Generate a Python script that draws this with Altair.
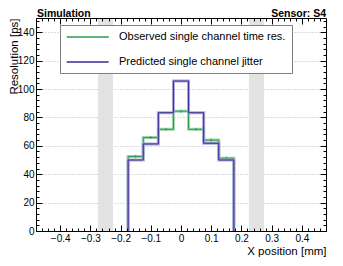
import altair as alt
import pandas as pd

# ---------------- data ----------------
bin_edges = [-0.175, -0.125, -0.075, -0.025, 0.025, 0.075, 0.125, 0.175]
observed = [52.5, 65.8, 71.6, 84.4, 71.6, 64.0, 51.3]
observed_err = [1.0, 1.0, 1.0, 1.0, 1.0, 1.0, 1.0]
predicted = [50.0, 61.3, 83.3, 105.6, 83.3, 61.8, 50.0]
series_names = ["Observed single channel time res.", "Predicted single channel jitter"]
band_lo = [-0.275, 0.225]
band_hi = [-0.225, 0.275]

x_major = [-0.4, -0.3, -0.2, -0.1, 0.0, 0.1, 0.2, 0.3, 0.4]
x_minor = [round(-0.46 + 0.02 * i, 2) for i in range(47)]
y_major = [0, 20, 40, 60, 80, 100, 120, 140]
y_minor = list(range(0, 151, 4))

GREEN = "#2a9a48"
GREEN_HALO = "#97d4a6"
BLUE = "#352c92"
BLUE_HALO = "#a19bd8"
FONT = "Liberation Sans"
W, H = 290, 213
PAD_TOP = 10
PAD_BOTTOM = 250 - PAD_TOP - H


def step_table(values, name):
    rows = [{"x": bin_edges[0], "y": 0.0, "o": 0, "series": name}]
    for i, v in enumerate(values):
        rows.append({"x": bin_edges[i], "y": v, "o": i + 1, "series": name})
    rows.append({"x": bin_edges[-1], "y": values[-1], "o": len(values) + 1, "series": name})
    rows.append({"x": bin_edges[-1], "y": 0.0, "o": len(values) + 2, "series": name})
    return pd.DataFrame(rows)


obs_df = step_table(observed, series_names[0])
pred_df = step_table(predicted, series_names[1])
centers = [(bin_edges[i] + bin_edges[i + 1]) / 2 for i in range(len(observed))]
err_df = pd.DataFrame({
    "x": centers,
    "lo": [v - e for v, e in zip(observed, observed_err)],
    "hi": [v + e for v, e in zip(observed, observed_err)],
})
band_df = pd.DataFrame({"x0": band_lo, "x1": band_hi})

xs = alt.Scale(domain=[-0.48, 0.48], nice=False, zero=False)
ys = alt.Scale(domain=[0, 150], nice=False, zero=True)


def tick_axis(orient, values, size, offset, domain=False):
    return alt.Axis(orient=orient, values=values, ticks=True, tickSize=size,
                    tickColor="black", tickWidth=1, labels=False, grid=False,
                    domain=domain, domainColor="black", domainWidth=1,
                    offset=offset, title=None, zindex=1)


main_x_axis = alt.Axis(orient="bottom", values=x_major, format="~g", ticks=False,
                       tickSize=0, labelPadding=2, labelFontSize=10, labelFont=FONT,
                       labelColor="black", grid=False, domain=False,
                       title="X position [mm]", titleFont=FONT, titleFontSize=11.5,
                       titleFontWeight="normal", titleColor="black",
                       titleAlign="right", titleBaseline="alphabetic",
                       titleX=W, titleY=23, titleAngle=0)
main_y_axis = alt.Axis(orient="left", values=y_major, format="d", ticks=False,
                       tickSize=0, labelPadding=2, labelFontSize=10, labelFont=FONT,
                       labelColor="black", grid=True, gridColor="#b8b8b8",
                       gridDash=[1, 2], gridWidth=1, domain=False,
                       title="Resolution [ps]", titleFont=FONT, titleFontSize=11.5,
                       titleFontWeight="normal", titleColor="black",
                       titleAlign="right", titleBaseline="top", titleAngle=270,
                       titleX=-28, titleY=0)

color_enc = alt.Color(
    "series:N",
    scale=alt.Scale(domain=series_names, range=[GREEN, BLUE]),
    legend=alt.Legend(orient="none", legendX=24, legendY=7, title=None,
                      strokeColor="#808080", fillColor="white", padding=6,
                      symbolType="M-1,0H7", symbolSize=110, symbolStrokeWidth=1.5,
                      labelOffset=41, labelFontSize=11, labelFont=FONT,
                      labelColor="black", labelLimit=400, rowPadding=14),
)

bands = alt.Chart(band_df).mark_rect(color="#e3e3e3").encode(
    x=alt.X("x0:Q", scale=xs, axis=None),
    x2="x1:Q",
    y=alt.Y(datum=0, scale=ys, axis=None),
    y2=alt.Y2(datum=150),
)

green_halo = alt.Chart(obs_df).mark_line(interpolate="step-after", color=GREEN_HALO,
                                         strokeWidth=3, opacity=0.9).encode(
    x=alt.X("x:Q", scale=xs, axis=main_x_axis),
    y=alt.Y("y:Q", scale=ys, axis=main_y_axis),
    order="o:Q",
)

green_line = alt.Chart(obs_df).mark_line(interpolate="step-after", strokeWidth=1).encode(
    x=alt.X("x:Q", scale=xs, axis=tick_axis("top", x_major, 6, -H, True)),
    y=alt.Y("y:Q", scale=ys, axis=tick_axis("right", y_major, 6, -W, True)),
    color=color_enc,
    order="o:Q",
)

green_err = alt.Chart(err_df).mark_rule(color=GREEN, strokeWidth=1).encode(
    x=alt.X("x:Q", scale=xs, axis=tick_axis("top", x_minor, 3, -H)),
    y=alt.Y("lo:Q", scale=ys, axis=tick_axis("right", y_minor, 3, -W)),
    y2="hi:Q",
)

blue_halo = alt.Chart(pred_df).mark_line(interpolate="step-after", color=BLUE_HALO,
                                         strokeWidth=3, opacity=0.9).encode(
    x=alt.X("x:Q", scale=xs, axis=tick_axis("bottom", x_major, 6, -H, True)),
    y=alt.Y("y:Q", scale=ys, axis=tick_axis("left", y_major, 6, -W, True)),
    order="o:Q",
)

blue_line = alt.Chart(pred_df).mark_line(interpolate="step-after", strokeWidth=1).encode(
    x=alt.X("x:Q", scale=xs, axis=tick_axis("bottom", x_minor, 3, -H)),
    y=alt.Y("y:Q", scale=ys, axis=tick_axis("left", y_minor, 3, -W)),
    color=color_enc,
    order="o:Q",
)

txt_left = alt.Chart(alt.Data(values=[{"t": "Simulation"}])).mark_text(
    align="left", baseline="top", font=FONT, fontSize=10.5, fontWeight="bold",
    color="black").encode(x=alt.value(1), y=alt.value(-PAD_TOP + 1), text="t:N")
txt_right = alt.Chart(alt.Data(values=[{"t": "Sensor: S4"}])).mark_text(
    align="right", baseline="top", font=FONT, fontSize=10.5, fontWeight="bold",
    color="black").encode(x=alt.value(W), y=alt.value(-PAD_TOP + 1), text="t:N")

chart = alt.layer(
    bands, green_halo, green_line, green_err, blue_halo, blue_line, txt_left, txt_right
).resolve_axis(
    x="independent", y="independent"
).properties(
    width=W, height=H,
    autosize=alt.AutoSizeParams(type="none"),
    padding={"left": 28, "top": PAD_TOP, "right": 9, "bottom": PAD_BOTTOM},
).configure_view(
    stroke="black", strokeWidth=1
).configure(
    font=FONT, background="white"
)

chart.save("out.html", embed_options={"renderer": "svg", "actions": False})
